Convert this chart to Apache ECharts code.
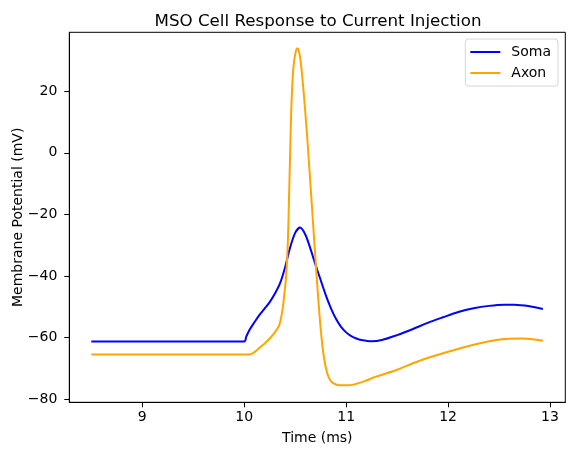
<!DOCTYPE html>
<html>
<head>
<meta charset="utf-8">
<script src="https://cdn.jsdelivr.net/npm/echarts@6/dist/echarts.min.js"></script>
<style>html,body{margin:0;padding:0;background:#fff}#c{width:574px;height:455px}</style>
</head>
<body>
<div id="c"></div>
<script>
const somaT = [8.5, 10.0, 10.02, 10.05, 10.1, 10.15, 10.2, 10.25, 10.3, 10.35, 10.4, 10.45, 10.5, 10.548, 10.6, 10.65, 10.7, 10.75, 10.8, 10.85, 10.9, 10.95, 11.0, 11.05, 11.1, 11.15, 11.25, 11.35, 11.5, 11.65, 11.8, 11.95, 12.1, 12.25, 12.4, 12.55, 12.65, 12.8, 12.93];
const somaV = [-61.3, -61.3, -59.7, -57.6, -55.0, -52.6, -50.6, -48.5, -45.8, -42.5, -37.3, -30.8, -26.0, -24.3, -26.6, -31.2, -36.4, -41.3, -46.2, -50.4, -53.9, -56.5, -58.3, -59.5, -60.3, -60.8, -61.2, -60.8, -59.2, -57.3, -55.2, -53.4, -51.7, -50.5, -49.7, -49.3, -49.3, -49.8, -50.7];
const axonT = [8.5, 10.05, 10.1, 10.15, 10.2, 10.25, 10.3, 10.34, 10.36, 10.38, 10.395, 10.41, 10.42, 10.43, 10.44, 10.45, 10.46, 10.47, 10.48, 10.49, 10.5, 10.51, 10.522, 10.535, 10.545, 10.555, 10.566, 10.58, 10.595, 10.61, 10.625, 10.64, 10.655, 10.67, 10.685, 10.7, 10.715, 10.73, 10.745, 10.76, 10.775, 10.79, 10.81, 10.83, 10.86, 10.9, 10.96, 11.02, 11.1, 11.167, 11.3, 11.494, 11.65, 11.82, 12.0, 12.147, 12.3, 12.474, 12.6, 12.72, 12.83, 12.93];
const axonV = [-65.5, -65.5, -64.7, -63.3, -61.9, -60.3, -58.3, -56.3, -53.8, -50.0, -45.5, -40.5, -35.0, -27.0, -14.0, -1.0, 12.5, 21.0, 26.6, 29.8, 31.9, 33.3, 33.9, 33.2, 31.7, 29.3, 25.8, 20.8, 14.9, 8.5, 1.7, -5.5, -12.8, -20.2, -27.6, -35.0, -42.2, -49.0, -55.2, -60.5, -64.8, -68.0, -71.0, -73.0, -74.5, -75.2, -75.5, -75.5, -75.0, -74.3, -72.6, -70.5, -68.4, -66.4, -64.6, -63.2, -61.9, -60.8, -60.4, -60.3, -60.5, -61.0];
const xTicks = [9, 10, 11, 12, 13];
const yTicks = [-80, -60, -40, -20, 0, 20];

const font = 'DejaVu Sans';
const fmt = v => String(v).replace('-', '\u2212');
const chart = echarts.init(document.getElementById('c'), null, {renderer: 'canvas'});
chart.setOption({
  animation: false,
  backgroundColor: '#fff',
  title: {
    text: 'MSO Cell Response to Current Injection',
    left: 313, top: 8, textAlign: 'center',
    textStyle: {fontFamily: font, fontSize: 16.7, fontWeight: 'normal', color: '#000'}
  },
  legend: {
    orient: 'vertical', right: 16, top: 39,
    padding: [5, 7, 5, 5], itemGap: 5, itemWidth: 30, itemHeight: 2, icon: 'rect',
    borderColor: '#d6d6d6', borderWidth: 1, borderRadius: 3,
    backgroundColor: 'rgba(255,255,255,0.8)',
    textStyle: {fontFamily: font, fontSize: 14, color: '#000', padding: [0, 0, 0, 6], lineHeight: 16},
    data: ['Soma', 'Axon']
  },
  grid: {left: 69.3, right: 8.7, top: 32.3, bottom: 52.7, containLabel: false, outerBoundsMode: 'none',
         show: true, borderColor: '#000', borderWidth: 1, backgroundColor: 'transparent'},
  xAxis: {
    type: 'value', min: 8.284, max: 13.15,
    name: 'Time (ms)', nameLocation: 'middle', nameGap: 29, nameMoveOverlap: false,
    nameTextStyle: {fontFamily: font, fontSize: 14, color: '#000'},
    axisLine: {show: true, onZero: false, lineStyle: {color: '#000', width: 1}},
    axisTick: {show: true, length: 5, lineStyle: {color: '#000'}, customValues: xTicks},
    axisLabel: {fontFamily: font, fontSize: 14, color: '#000', margin: 8, customValues: xTicks, formatter: fmt},
    splitLine: {show: false}
  },
  yAxis: {
    type: 'value', min: -81.0, max: 39.1,
    name: 'Membrane Potential (mV)', nameLocation: 'middle', nameGap: 44, nameRotate: 90, nameMoveOverlap: false,
    nameTextStyle: {fontFamily: font, fontSize: 14, color: '#000'},
    axisLine: {show: true, onZero: false, lineStyle: {color: '#000', width: 1}},
    axisTick: {show: true, length: 5, lineStyle: {color: '#000'}, customValues: yTicks},
    axisLabel: {fontFamily: font, fontSize: 14, color: '#000', margin: 12, customValues: yTicks, formatter: fmt},
    splitLine: {show: false}
  },
  series: [
    {name: 'Soma', type: 'line', symbol: 'none', smooth: 0.3, color: '#0000ff',
     lineStyle: {width: 2, color: '#0000ff'}, data: somaT.map((t, i) => [t, somaV[i]])},
    {name: 'Axon', type: 'line', symbol: 'none', smooth: 0.3, color: '#ffa500',
     lineStyle: {width: 2, color: '#ffa500'}, data: axonT.map((t, i) => [t, axonV[i]])}
  ]
});
</script>
</body>
</html>
